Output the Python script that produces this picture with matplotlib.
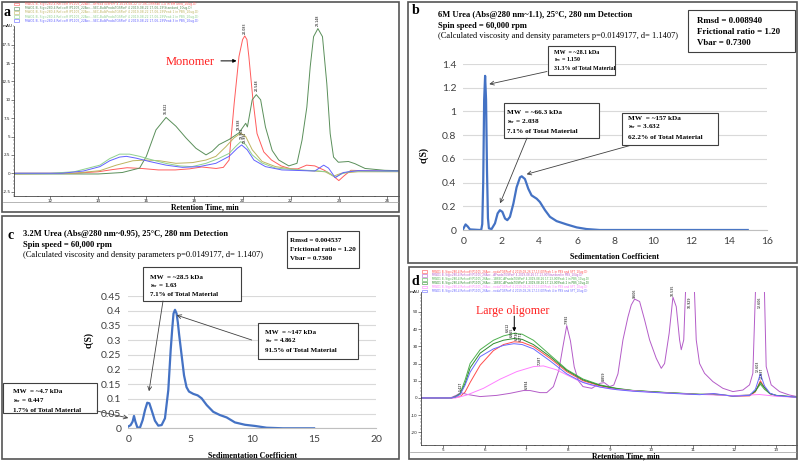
import numpy as np
import matplotlib.pyplot as plt
from matplotlib.patches import Rectangle
from matplotlib.ticker import MultipleLocator

plt.rcParams['mathtext.fontset'] = 'stix'
W, H = 799, 461
SERIF = ['Liberation Serif', 'DejaVu Serif']
SANS = ['Lato', 'DejaVu Sans']

# ---------------- panel a : SEC traces (6M urea) ----------------
a_red_x = [10.5, 13.0, 14.0, 14.6, 15.2, 15.8, 16.5, 17.2, 17.8, 18.3, 18.6, 18.9, 19.2, 19.44, 19.65,
           19.85, 20.0, 20.09, 20.18, 20.26, 20.43, 20.6, 20.88, 21.2, 21.6, 22.0, 22.3, 22.66, 23.0,
           23.4, 23.7, 24.0, 24.2, 24.5, 25.0, 26.0, 26.5]
a_red_y = [0, 0, 0.2, 0.5, 0.75, 0.65, 0.45, 0.45, 0.6, 0.85, 0.75, 0.65, 0.8, 1.8, 9.5,
           15.9, 18.2, 18.7, 18.2, 15.9, 10.0, 5.4, 2.9, 1.8, 1.0, 0.6, 0.6, 1.1, 1.0,
           0.4, -0.2, -1.0, -0.4, 0.4, 0.35, 0.3, 0.3]
a_dkgreen_x = [10.5, 14.0, 15.0, 15.72, 16.0, 16.4, 16.82, 17.23, 17.65, 18.06, 18.48, 18.74, 19.02,
               19.44, 19.85, 20.13, 20.2, 20.4, 20.57, 20.75, 20.95, 21.23, 21.5, 21.92, 22.26,
               22.47, 22.67, 22.81, 22.95, 23.13, 23.32, 23.5, 23.64, 23.78, 23.98, 24.4, 24.67,
               25.09, 25.9, 26.5]
a_dkgreen_y = [-0.1, -0.1, 0.1, 0.7, 2.3, 5.9, 7.6, 6.4, 4.8, 3.4, 2.5, 3.0, 3.9,
               4.6, 5.5, 6.8, 6.3, 10.0, 10.7, 10.0, 6.3, 3.1, 1.8, 1.0, 1.35,
               4.5, 9.0, 14.5, 18.6, 19.7, 18.6, 12.2, 5.4, 2.2, 1.5, 1.6, 1.3,
               0.65, 0.4, 0.35]
a_ltgreen_x = [10.5, 12.0, 13.0, 14.07, 14.48, 14.89, 15.3, 15.72, 16.26, 16.8, 17.37, 17.9, 18.48,
               19.0, 19.44, 19.7, 19.92, 20.13, 20.4, 20.8, 21.37, 22.33, 23.0, 23.5, 23.85, 24.1,
               24.5, 26.5]
a_ltgreen_y = [0, 0, 0.2, 1.1, 2.0, 2.6, 2.6, 2.3, 1.8, 1.35, 1.0, 0.9, 1.35,
               2.0, 2.7, 3.6, 4.3, 3.9, 2.5, 1.4, 0.7, 0.45, 0.35, 0.2, -0.55, -0.1,
               0.3, 0.25]
a_blue_x = [10.5, 12.5, 13.38, 14.07, 14.48, 14.89, 15.17, 15.58, 16.13, 16.82, 17.5, 18.2, 18.89,
            19.44, 19.78, 19.96, 20.19, 20.47, 20.95, 21.63, 23.0, 23.37, 23.57, 23.85, 24.19,
            24.8, 26.5]
a_blue_y = [0, 0, 0.3, 0.9, 1.7, 2.2, 2.3, 2.05, 1.6, 1.1, 0.8, 0.9, 1.35,
            2.3, 3.4, 3.85, 3.2, 1.8, 0.9, 0.45, 0.3, 1.1, 0.7, -0.6, 0.1,
            0.35, 0.3]
a_olive_x = [10.5, 13.0, 14.07, 14.75, 15.44, 16.0, 16.55, 17.23, 17.92, 18.48, 18.89, 19.3, 19.64,
             19.92, 20.13, 20.4, 20.81, 21.37, 22.33, 23.43, 23.78, 24.1, 24.8, 26.5]
a_olive_y = [-0.1, 0, 0.35, 1.1, 1.7, 1.8, 1.7, 1.35, 1.45, 1.8, 2.3, 3.6, 4.8,
             5.45, 5.0, 3.2, 1.6, 0.9, 0.45, 0.2, -0.4, 0.0, 0.2, 0.2]
a_peaks = [(16.82, 8.0, '16.822'), (20.09, 19.0, '20.083'), (20.57, 11.2, '20.548'),
           (23.13, 20.1, '23.148'), (19.84, 5.9, '19.938'), (19.97, 4.7, '19.962'),
           (20.1, 4.1, '19.991')]
a_yticks = [-2.5, 0, 2.5, 5, 7.5, 10, 12.5, 15, 17.5]
a_xticks = [12, 14, 16, 18, 20, 22, 24, 26]
a_legend = [
    'MWD1 B, Sig=280,4 Ref=off (P1105_22Acc...aProdaTGSPorF 4 2019-08-22 17-06-19\\Peak 1-4 in 6M urea_10ug.D)',
    'MWD1 B, Sig=280,4 Ref=off (P1105_22Acc...SEC-BulkProdaTGSPorF 4 2019-08-22 17-06-19\\Standard_10ug.D)',
    'MWD1 B, Sig=280,4 Ref=off (P1105_22Acc...SEC-BulkProdaTGSPorF 4 2019-08-22 17-06-19\\Peak 1 in PBS_10ug.D)',
    'MWD1 B, Sig=280,4 Ref=off (P1105_22Acc...SEC-BulkProdaTGSPorF 4 2019-08-22 17-06-19\\Peak 2 in PBS_10ug.D)',
    'MWD1 B, Sig=280,4 Ref=off (P1105_22Acc...SEC-BulkProdaTGSPorF 4 2019-08-22 17-06-19\\Peak 3 in PBS_10ug.D)',
]
a_colors = ['#ff5c5c', '#5a8f5a', '#bdb460', '#8fd08f', '#6262ff']

# ---------------- panel b : c(S), 6M urea ----------------
b_s = [0, 0.12, 0.23, 0.35, 0.88, 0.95, 1.0, 1.05, 1.1, 1.15, 1.2, 1.25, 1.3, 1.35, 1.49, 1.67, 1.81,
       1.93, 2.06, 2.2, 2.32, 2.46, 2.64, 2.81, 2.99, 3.08, 3.25, 3.43, 3.6, 3.87, 4.04, 4.31, 4.57,
       4.92, 5.45, 5.98, 6.5, 7.2, 15.0]
b_c = [0.01, 0.047, 0.03, 0.005, 0, 0.005, 0.05, 0.4, 1.1, 1.3, 1.1, 0.5, 0.1, 0.014, 0.008, 0.056, 0.14,
       0.167, 0.153, 0.097, 0.083, 0.111, 0.222, 0.36, 0.444, 0.453, 0.43, 0.347, 0.292, 0.264, 0.236,
       0.167, 0.111, 0.075, 0.047, 0.022, 0.008, 0, 0]
b_boxes = [
    ['MW  = ~28.1 kDa', r'$\mathbf{s_w}$ = 1.150', '31.3% of Total Material'],
    ['MW  = ~66.3 kDa', r'$\mathbf{s_w}$ = 2.038', '7.1% of Total Material'],
    ['MW  = ~157 kDa', r'$\mathbf{s_w}$ = 3.632', '62.2% of Total Material'],
]
b_targets = [(1.37, 1.23), (1.94, 0.225), (3.34, 0.47)]
b_fit = ['Rmsd = 0.008940', 'Frictional ratio = 1.20', 'Vbar = 0.7300']

# ---------------- panel c : c(S), 3.2M urea ----------------
c_s = [0, 0.19, 0.35, 0.46, 0.57, 0.73, 0.94, 1.16, 1.35, 1.53, 1.7, 1.88, 2.15, 2.42, 2.69, 2.96,
       3.23, 3.42, 3.55, 3.65, 3.77, 3.9, 4.0, 4.1, 4.3, 4.5, 4.7, 4.9, 5.25, 5.6, 5.92, 6.33, 6.86,
       7.4, 7.94, 8.61, 9.42, 10.23, 11.17, 12.5, 15.0]
c_c = [0.006, 0.011, 0.023, 0.042, 0.023, 0.003, 0.002, 0.028, 0.062, 0.087, 0.085, 0.062, 0.026,
       0.009, 0.011, 0.034, 0.13, 0.265, 0.34, 0.39, 0.403, 0.39, 0.36, 0.32, 0.25, 0.18, 0.14,
       0.125, 0.117, 0.112, 0.102, 0.079, 0.056, 0.045, 0.037, 0.02, 0.012, 0.008, 0.002, 0, 0]
c_boxes = [
    ['MW  = ~28.5 kDa', r'$\mathbf{s_w}$ = 1.63', '7.1% of Total Material'],
    ['MW  = ~147 kDa', r'$\mathbf{s_w}$ = 4.862', '91.5% of Total Material'],
    ['MW  = ~4.7 kDa', r'$\mathbf{s_w}$ = 0.447', '1.7% of Total Material'],
]
c_targets = [(1.67, 0.126), (3.9, 0.385), (0.0, 0.035)]
c_fit = ['Rmsd = 0.004537', 'Frictional ratio = 1.20', 'Vbar = 0.7300']

# ---------------- panel d : SEC traces (PBS) ----------------
d_broad_x = [4.47, 5.2, 5.3, 5.41, 5.53, 5.65, 5.89, 6.21, 6.45, 6.7, 6.9, 7.17, 7.57, 7.97, 8.36,
             8.77, 9.17, 9.56, 10.36, 11.16, 11.5, 11.96, 12.36, 12.5, 12.62, 12.72, 12.85, 13.0, 13.5]
d_green_y = [0, 0, 0.8, 2.7, 10.5, 20, 28, 33.5, 36, 37.5, 37, 33.5, 25, 16.5, 11,
             7.6, 5.6, 4.4, 3.2, 2.2, 2.0, 1.3, 1.7, 4, 8, 5, 2.5, 1.5, 0.5]
d_dkgreen_y = [0, 0, 0.7, 2.3, 8.5, 17.5, 26, 31.5, 33.5, 34.5, 34, 31.0, 24, 16, 10.5,
               7.3, 5.4, 4.3, 3.1, 2.1, 2.0, 1.2, 1.6, 4, 9, 6, 2.5, 1.5, 0.5]
d_red_y = [0, 0, 0.3, 0.8, 3.5, 9, 19, 27.5, 31, 32.6, 32.3, 29.8, 23, 15.3, 10,
           7, 5.2, 4.2, 3.0, 2.0, 2.4, 1.0, 1.2, 3.5, 10, 6, 2.5, 1.3, 0.4]
d_blue_y = [0, 0, 0.6, 2.0, 7.5, 15, 24, 28.5, 30.5, 31.5, 31, 28.5, 21.5, 14, 9,
            6.3, 4.8, 3.9, 2.8, 1.9, 2.6, 1.0, 1.5, 5, 14, 7, 2.8, 1.4, 0.4]
d_pink_x = [4.47, 5.3, 5.57, 5.97, 6.37, 6.77, 7.17, 7.41, 7.73, 7.97, 8.21, 8.53, 9.0, 10.0, 11.0,
            12.0, 12.6, 13.0, 13.5]
d_pink_y = [0, 0, 1.7, 5.6, 10.9, 15.3, 18.2, 18.6, 16.3, 13.4, 10.5, 7.6, 5.3, 3.4, 2.2,
            1.3, 2.0, 1.0, 0.4]
d_purple_x = [4.47, 5.1, 5.2, 5.33, 5.42, 5.57, 5.89, 6.29, 6.61, 6.93, 7.09, 7.33, 7.49, 7.65, 7.78,
              7.88, 7.97, 8.06, 8.15, 8.25, 8.36, 8.57, 8.77, 8.87, 9.0, 9.1, 9.2, 9.32, 9.44, 9.52,
              9.6, 9.72, 9.84, 9.96, 10.12, 10.24, 10.32, 10.43, 10.52, 10.6, 10.68, 10.72, 10.78,
              10.82, 10.94, 11.04, 11.08, 11.16, 11.28, 11.48, 11.72, 11.96, 12.2, 12.36, 12.44,
              12.5, 12.61, 12.72, 12.76, 12.88, 13.08, 13.32, 13.5]
d_purple_y = [0, 0, 0.3, 1.7, 3.1, 2.1, 0.8, 1.5, 2.7, 4.3, 4.3, 3.1, 3.1, 6.6, 16,
              30, 42, 33, 18, 10, 6.6, 5.6, 8.5, 8.9, 6.6, 7.5, 14, 33.7, 47, 54,
              57.4, 56, 45.3, 33.7, 23, 17.2, 20, 37.6, 58.5, 53, 33.7, 28, 33.7,
              60, 120, 60, 33.7, 20, 14.3, 9.5, 5.6, 3.7, 4.6, 7.6, 14.3,
              60, 150, 60, 18.2, 7.6, 3.7, 1.7, 0.8]
d_peaks = [(5.42, 3.8, '5.427'), (6.56, 38.3, '6.612'), (6.66, 35.2, '6.665'), (6.76, 33.6, '6.730'),
           (6.86, 33.0, '6.771'), (7.0, 5.2, '6.994'), (7.33, 19.4, '7.287'), (7.97, 43, '7.992'),
           (8.86, 9.8, '8.859'), (9.6, 58.2, '9.606'), (10.52, 59.0, '10.535'),
           (10.93, 52.5, '10.929'), (12.61, 52.5, '12.606'), (12.56, 14.8, '12.603'),
           (12.66, 11.0, '12.637')]
d_yticks = [-20, -10, 0, 10, 20, 30, 40, 50]
d_xticks = [5, 6, 7, 8, 9, 10, 11, 12, 13]
d_legend = [
    'MWD1 B, Sig=280,4 Ref=off (P1105_26Acc...nodaTGSPorF 4 2019-08-26 17-13-00\\Peak 1 in PBS and SFT_10ug.D)',
    'MWD1 B, Sig=280,4 Ref=off (P1105_26Acc...APnodaTGSPorF 4 2019-08-26 17-13-00\\Standard in PBS_10ug.D)',
    'MWD1 B, Sig=280,4 Ref=off (P1105_26Acc...1BSEC-APnodaTGSPorF 4 2019-08-26 17-13-00\\Peak 1 in PBS_10ug.D)',
    'MWD1 B, Sig=280,4 Ref=off (P1105_26Acc...1BSEC-APnodaTGSPorF 4 2019-08-26 17-13-00\\Peak 2 in PBS_10ug.D)',
    'MWD1 B, Sig=280,4 Ref=off (P1105_26Acc...nodaTGSPorF 4 2019-08-26 17-13-00\\Peak 3 in PBS and SFT_10ug.D)',
    'MWD1 B, Sig=280,4 Ref=off (P1105_26Acc...nodaTGSPorF 4 2019-08-26 17-13-00\\Peak 4 in PBS and SFT_10ug.D)',
]
d_colors = ['#ff4d4d', '#b45cc8', '#4fb04f', '#2e8b2e', '#ff80ff', '#6a6aff']


fig = plt.figure(figsize=(W / 100, H / 100), dpi=100)


def add_ax(left, top, right, bottom):
    return fig.add_axes([left / W, 1 - bottom / H, (right - left) / W, (bottom - top) / H])


# overlay in pixel coordinates (origin top-left) for frames, titles and boxes
ov = fig.add_axes([0, 0, 1, 1])
ov.set_xlim(0, W)
ov.set_ylim(H, 0)
ov.axis('off')
ov.set_zorder(10)


def chrom_style(ax, xlim, ylim, xt, yt, xminor, yminor):
    ax.set_xlim(*xlim)
    ax.set_ylim(*ylim)
    ax.patch.set_alpha(0)
    for s in ('top', 'right'):
        ax.spines[s].set_visible(False)
    for s in ('left', 'bottom'):
        ax.spines[s].set_linewidth(0.5)
        ax.spines[s].set_color('#222222')
    ax.set_xticks(xt)
    ax.set_xticklabels([f'{v:g}' for v in xt])
    ax.set_yticks(yt)
    ax.set_yticklabels([f'{v:g}' for v in yt])
    ax.xaxis.set_minor_locator(MultipleLocator(xminor))
    ax.yaxis.set_minor_locator(MultipleLocator(yminor))
    ax.tick_params(which='major', length=2, width=0.4, labelsize=3, pad=0.5, colors='#222222')
    ax.tick_params(which='minor', length=1, width=0.3, colors='#222222')
    ax.text(-0.004, 1.0, 'mAU', transform=ax.transAxes, ha='right', va='center', fontsize=3)


def excel_style(ax, xlim, ylim, xstep, ystep):
    ax.set_xlim(*xlim)
    ax.set_ylim(*ylim)
    ax.patch.set_alpha(0)
    ax.set_xticks(np.arange(xlim[0], xlim[1] + xstep / 2, xstep))
    ax.set_yticks(np.arange(ylim[0], ylim[1] + ystep / 2, ystep))
    ax.set_xticklabels([f'{v:g}' for v in ax.get_xticks()])
    ax.set_yticklabels([f'{round(v, 2):g}' for v in ax.get_yticks()])
    ax.yaxis.grid(True, color='#d9d9d9', lw=0.8)
    ax.set_axisbelow(True)
    for s in ('top', 'right', 'left'):
        ax.spines[s].set_visible(False)
    ax.spines['bottom'].set_color('#bfbfbf')
    ax.spines['bottom'].set_linewidth(0.8)
    ax.tick_params(axis='both', length=0, labelsize=7.5, colors='#404040', pad=5)
    for lab in ax.get_xticklabels() + ax.get_yticklabels():
        lab.set_family(SANS)


# ---------- panel a ----------
ax_a = add_ax(14, 26, 399, 196)
chrom_style(ax_a, (10.5, 26.5), (-3.1, 20.05), a_xticks, a_yticks, 0.5, 0.5)
a_series = [(a_red_x, a_red_y), (a_dkgreen_x, a_dkgreen_y), (a_olive_x, a_olive_y),
            (a_ltgreen_x, a_ltgreen_y), (a_blue_x, a_blue_y)]
for (xs, ys), col in zip(a_series, a_colors):
    ax_a.plot(xs, ys, color=col, lw=0.7)
for x, y, lab in a_peaks:
    ax_a.text(x, y, lab, rotation=90, fontsize=2.3, ha='center', va='bottom', clip_on=False)
ax_a.annotate('', xy=(19.75, 15.3), xytext=(19.1, 15.3),
              arrowprops=dict(arrowstyle='-|>', color='black', lw=0.7, mutation_scale=5,
                              shrinkA=0, shrinkB=0))
ov.text(166, 62, 'Monomer', color='#ff2020', fontsize=9, family=SERIF, va='center')

# ---------- panel b ----------
ax_b = add_ax(463.3, 64, 766.7, 230)
excel_style(ax_b, (0, 16), (0, 1.4), 2, 0.2)
ax_b.plot(b_s, b_c, color='#4472c4', lw=1.6)
ax_b.set_xlabel('Sedimentation Coefficient', fontsize=5.8, fontweight='bold', family=SERIF)
ax_b.xaxis.set_label_coords(0.5, -0.14)
ax_b.set_ylabel('c(S)', fontsize=7, fontweight='bold', family=SERIF)
ax_b.yaxis.set_label_coords(-0.115, 0.45)

# ---------- panel c ----------
ax_c = add_ax(128.3, 296, 376, 428.3)
excel_style(ax_c, (0, 20), (0, 0.45), 5, 0.05)
ax_c.plot(c_s, c_c, color='#4472c4', lw=1.6)
ax_c.set_xlabel('Sedimentation Coefficient', fontsize=5.8, fontweight='bold', family=SERIF)
ax_c.xaxis.set_label_coords(0.5, -0.18)
ax_c.set_ylabel('c(S)', fontsize=7, fontweight='bold', family=SERIF)
ax_c.yaxis.set_label_coords(-0.142, 0.67)

# ---------- panel d ----------
ax_d = add_ax(421, 292, 797, 445)
chrom_style(ax_d, (4.47, 13.5), (-27.3, 61.5), d_xticks, d_yticks, 0.2, 2)
d_series = [(d_broad_x, d_red_y), (d_purple_x, d_purple_y), (d_broad_x, d_green_y),
            (d_broad_x, d_dkgreen_y), (d_pink_x, d_pink_y), (d_broad_x, d_blue_y)]
for (xs, ys), col in zip(d_series, d_colors):
    ax_d.plot(xs, ys, color=col, lw=0.7)
for x, y, lab in d_peaks:
    ax_d.text(x, y, lab, rotation=90, fontsize=2.3, ha='center', va='bottom')
ax_d.annotate('', xy=(6.71, 38.5), xytext=(6.71, 47.5),
              arrowprops=dict(arrowstyle='-|>', color='black', lw=0.7, mutation_scale=5,
                              shrinkA=0, shrinkB=0))
ov.text(476, 311, 'Large oligomer', color='#ff2020', fontsize=8.6, family=SERIF, va='center')

# ---------- frames, legends, titles ----------
frame_kw = dict(fill=False, ec='#555555', lw=1.2)
for x0, y0, x1, y1 in [(2, 2, 399, 212), (408, 2, 797, 263), (2, 216, 399, 459), (409, 267, 797, 459)]:
    ov.add_patch(Rectangle((x0, y0), x1 - x0, y1 - y0, **frame_kw))
ov.plot([3, 398], [201.5, 201.5], color='#999999', lw=0.5)
ov.plot([410, 796], [451.5, 451.5], color='#999999', lw=0.5)

for lab, x, y in [('a', 4, 12), ('b', 412, 11), ('c', 7, 235), ('d', 412, 281)]:
    ov.text(x, y, lab, fontsize=10, fontweight='bold', family=SERIF, va='center')

ov.text(205, 207, 'Retention Time, min', fontsize=5.6, fontweight='bold', family=SERIF,
        ha='center', va='center')
ov.text(626, 456, 'Retention Time, min', fontsize=5.6, fontweight='bold', family=SERIF,
        ha='center', va='center')

for i, (txt, col) in enumerate(zip(a_legend, a_colors)):
    y = 4.2 + i * 4.15
    ov.add_patch(Rectangle((14, y - 1.3), 5, 2.6, fill=False, ec=col, lw=0.4))
    ov.text(25, y, txt, color=col, fontsize=2.2, va='center')
for i, (txt, col) in enumerate(zip(d_legend, d_colors)):
    y = 271.5 + i * 3.9
    ov.add_patch(Rectangle((422, y - 1.2), 5, 2.4, fill=False, ec=col, lw=0.4))
    ov.text(432, y, txt, color=col, fontsize=2.0, va='center')

# titles of b and c
for (x, y0), title in [((438, 15), '6M Urea (Abs@280 nm~1.1), 25°C, 280 nm Detection'),
                       ((23, 234), '3.2M Urea (Abs@280 nm~0.95), 25°C, 280 nm Detection')]:
    ov.text(x, y0, title, fontsize=6.1, fontweight='bold', family=SERIF, va='center')
    ov.text(x, y0 + 10.5, 'Spin speed = 60,000 rpm', fontsize=6.1, fontweight='bold',
            family=SERIF, va='center')
    ov.text(x, y0 + 20.5, '(Calculated viscosity and density parameters p=0.0149177, d= 1.1407)',
            fontsize=6.0, family=SERIF, va='center')


def text_box(x0, y0, x1, y1, lines, ys, tx, size):
    ov.add_patch(Rectangle((x0, y0), x1 - x0, y1 - y0, fc='white', ec='#404040', lw=0.8))
    for line, y in zip(lines, ys):
        ov.text(tx, y, line, fontsize=size, fontweight='bold', family=SERIF, va='center')


text_box(688, 10, 795, 52, b_fit, [21, 32, 43], 697, 6.4)
text_box(287, 231, 359, 268, c_fit, [240.5, 249, 258], 290, 5.0)

b_layout = [((548, 46, 615, 75), [52, 60, 68.3], 554, 4.3),
            ((504, 103, 599, 138), [112.7, 121.7, 131.7], 507, 5.2),
            ((622, 113, 718, 145), [118.3, 126.7, 137.7], 628, 5.2)]
b_tails = [(547, 71.5), (527, 138), (630, 145.5)]
c_layout = [((143, 267, 241, 301), [277, 286, 294.5], 150, 5.0),
            ((258, 323, 358, 359), [332.7, 341, 350.7], 265, 5.0),
            ((3, 383, 97, 413), [391, 401, 410], 13, 5.0)]
c_tails = [(163, 301), (251.7, 340), (97, 411)]

arrow_kw = dict(arrowstyle='->', color='#404040', lw=0.6, mutation_scale=7, shrinkA=0, shrinkB=0)
for ax, boxes, layout, tails, targets in [(ax_b, b_boxes, b_layout, b_tails, b_targets),
                                         (ax_c, c_boxes, c_layout, c_tails, c_targets)]:
    for lines, (rect, ys, tx, size), tail, tgt in zip(boxes, layout, tails, targets):
        ov.annotate('', xy=tgt, xycoords=ax.transData, xytext=tail, textcoords='data',
                    arrowprops=arrow_kw)
        text_box(*rect, lines, ys, tx, size)

fig.savefig('out.png', dpi=100)
